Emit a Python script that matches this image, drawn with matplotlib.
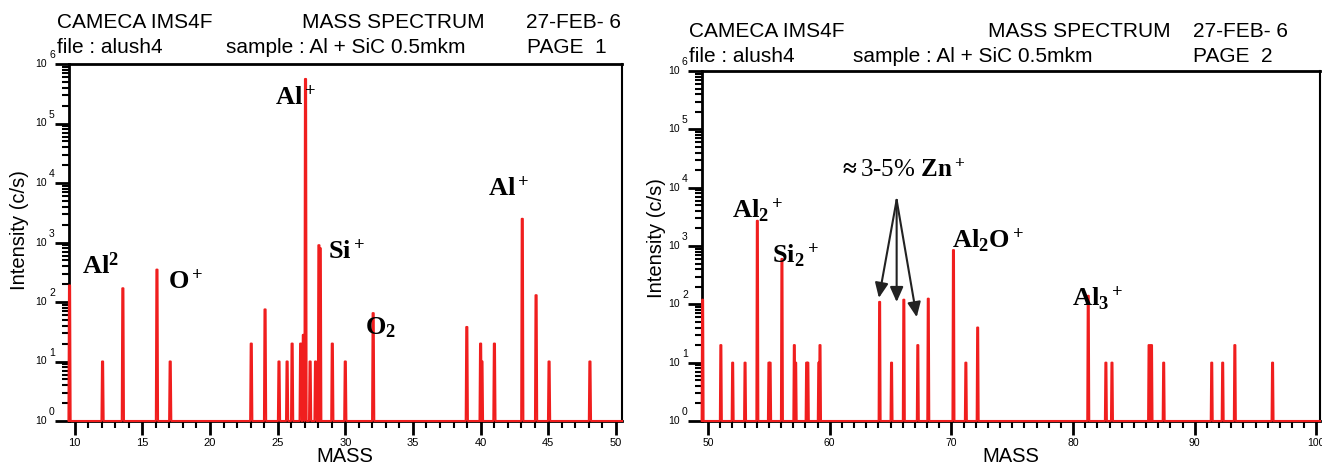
import matplotlib
matplotlib.use("Agg")
import matplotlib.pyplot as plt
import matplotlib.transforms as mtransforms
from matplotlib.ticker import LogLocator, MultipleLocator, NullFormatter
import numpy as np

plt.rcParams['font.family'] = ['Liberation Sans', 'DejaVu Sans']
plt.rcParams['mathtext.fontset'] = 'custom'
plt.rcParams['mathtext.rm'] = 'Liberation Serif:bold'
plt.rcParams['mathtext.bf'] = 'Liberation Serif:bold'
plt.rcParams['mathtext.it'] = 'Liberation Serif:bold'

# ---------------- data ----------------
p1_mass = [9.62, 12.06, 13.56, 16.08, 17.06, 23.05, 24.07, 25.1, 25.7, 26.07, 26.7, 26.9,
           27.06, 27.4, 27.8, 28.05, 28.15, 29.04, 30.0, 32.06, 38.98, 40.0, 40.1, 41.02,
           43.08, 44.1, 45.06, 48.08]
p1_int = [190, 10, 170, 350, 10, 20, 75, 10, 10, 20, 20, 28,
          5.6e5, 10, 10, 900, 800, 20, 10, 65, 38, 20, 10, 20,
          2500, 130, 10, 10]

p2_mass = [49.55, 51.05, 52.02, 53.04, 54.05, 55.0, 55.1, 56.07, 57.09, 57.2, 58.1, 58.2,
           59.1, 59.2, 64.1, 65.08, 66.09, 67.24, 68.1, 70.17, 71.19, 72.16, 81.25, 82.7,
           83.2, 86.25, 86.35, 86.45, 87.45, 91.4, 92.3, 93.3, 96.4]
p2_int = [120, 20, 10, 10, 2700, 10, 10, 600, 20, 10, 10, 10,
          10, 20, 110, 10, 120, 20, 125, 850, 10, 40, 140, 10,
          10, 20, 10, 20, 10, 10, 10, 20, 10]

p1_xlim = (9.58, 50.45)
p2_xlim = (49.5, 100.3)

p1_header = [["CAMECA IMS4F", "MASS SPECTRUM", "27-FEB- 6"],
             ["file : alush4", "sample : Al + SiC 0.5mkm", "PAGE  1"]]
p2_header = [["CAMECA IMS4F", "MASS SPECTRUM", "27-FEB- 6"],
             ["file : alush4", "sample : Al + SiC 0.5mkm", "PAGE  2"]]

p1_labels = [(r"$\mathrm{Al^2}$", 11.94, 10**2.61),
             (r"$\mathrm{O^+}$", 18.2, 10**2.35),
             (r"$\mathrm{Al^+}$", 26.3, 10**5.43),
             (r"$\mathrm{Si^+}$", 30.1, 10**2.85),
             (r"$\mathrm{O_2}$", 32.6, 10**1.56),
             (r"$\mathrm{Al^+}$", 42.05, 10**3.9)]
p2_labels = [(r"$\mathrm{Al_2{}^+}$", 54.1, 10**3.62),
             (r"$\mathrm{Si_2{}^+}$", 57.2, 10**2.85),
             (r"$\mathrm{Al_2O^+}$", 73.0, 10**3.1),
             (r"$\mathrm{Al_3{}^+}$", 82.0, 10**2.11)]
zn_text = r"$\approx$3-5% $\mathbf{Zn^+}$"
zn_text_pos = (65.9, 10**4.3)
zn_start = (65.5, 10**3.79)
zn_ends = [(64.04, 10**2.11), (65.5, 10**2.04), (67.15, 10**1.78)]

W, H = 1322, 466
fig = plt.figure(figsize=(W / 100, H / 100), dpi=100)

RED = '#f01e1e'


def spectrum(masses, ints, lo, hi, hw=0.08):
    xs, ys = [lo], [1.0]
    for m, v in zip(masses, ints):
        xs += [m - hw, m - hw / 2, m + hw / 2, m + hw]
        ys += [1.0, v, v, 1.0]
    xs.append(hi)
    ys.append(1.0)
    return np.array(xs), np.array(ys)


def make_axes(px_left, px_right, px_top, px_bottom, xlim, major, masses, ints, xfs):
    ax = fig.add_axes([px_left / W, 1 - px_bottom / H,
                       (px_right - px_left) / W, (px_bottom - px_top) / H])
    ax.set_yscale('log')
    ax.set_ylim(1, 1e6)
    ax.set_xlim(*xlim)
    x, y = spectrum(masses, ints, xlim[0], xlim[1])
    ax.plot(x, y, color=RED, lw=1.5, clip_on=False, zorder=5)
    ax.yaxis.set_major_locator(LogLocator(base=10, numticks=10))
    ax.yaxis.set_minor_locator(LogLocator(base=10, subs=np.arange(2, 10), numticks=20))
    ax.yaxis.set_major_formatter(NullFormatter())
    ax.yaxis.set_minor_formatter(NullFormatter())
    ax.xaxis.set_major_locator(MultipleLocator(major))
    ax.xaxis.set_minor_locator(MultipleLocator(1))
    ax.tick_params(which='major', direction='out', length=10, width=2, labelsize=xfs)
    ax.tick_params(which='minor', direction='out', length=5, width=1.5)
    ax.tick_params(axis='x', pad=2)
    ax.tick_params(top=False, right=False)
    for s in ['left', 'bottom', 'top']:
        ax.spines[s].set_linewidth(2)
    ax.spines['right'].set_linewidth(1.5)
    tr = ax.get_yaxis_transform()
    for k in range(7):
        t1 = mtransforms.offset_copy(tr, fig=fig, x=-22, y=0, units='dots')
        ax.text(0, 10 ** k, "10", transform=t1, ha='right', va='center', fontsize=7.5)
        t2 = mtransforms.offset_copy(tr, fig=fig, x=-20, y=9, units='dots')
        ax.text(0, 10 ** k, str(k), transform=t2, ha='left', va='center', fontsize=7.5)
    return ax


ax1 = make_axes(69, 622, 64, 421, p1_xlim, 5, p1_mass, p1_int, 8)
ax2 = make_axes(702, 1320, 71, 421, p2_xlim, 10, p2_mass, p2_int, 7.5)

# keep the last tick label of the right panel inside the picture
fig.canvas.draw()
for lab in ax2.get_xticklabels():
    if lab.get_text() in ("100",):
        lab.set_horizontalalignment('right')
        lab.set_transform(lab.get_transform() +
                          mtransforms.ScaledTranslation(8 / 100, 0, fig.dpi_scale_trans))

# headers
hfs = 15
for (txts, xs, ys) in [(p1_header, [[57, 302, 526], [57, 226, 527]], [28, 53]),
                       (p2_header, [[689, 988, 1193], [689, 853, 1193]], [37, 62])]:
    for r in range(2):
        for c in range(3):
            fig.text(xs[r][c] / W, 1 - ys[r] / H, txts[r][c], fontsize=hfs,
                     ha='left', va='baseline')

# axis labels
for xc, yc in [(20, 230), (657, 238)]:
    fig.text(xc / W, 1 - yc / H, "Intensity (c/s)", rotation=90, fontsize=14.5,
             ha='center', va='center')
for xc in [345, 1011]:
    fig.text(xc / W, 1 - 457 / H, "MASS", fontsize=14.5, ha='center', va='center')

# peak labels
for ax, labels in [(ax1, p1_labels), (ax2, p2_labels)]:
    for txt, xm, yv in labels:
        ax.text(xm, yv, txt, fontsize=19, ha='center', va='center', zorder=6)

ax2.text(zn_text_pos[0], zn_text_pos[1], zn_text, fontsize=18,
         ha='center', va='center', family='Liberation Serif')
for ex, ey in zn_ends:
    ax2.annotate("", xy=(ex, ey), xytext=zn_start,
                 arrowprops=dict(arrowstyle='-|>,head_length=0.9,head_width=0.4',
                                 color='#222222', lw=1.5, shrinkA=0, shrinkB=0))

fig.savefig("out.png", dpi=100)
